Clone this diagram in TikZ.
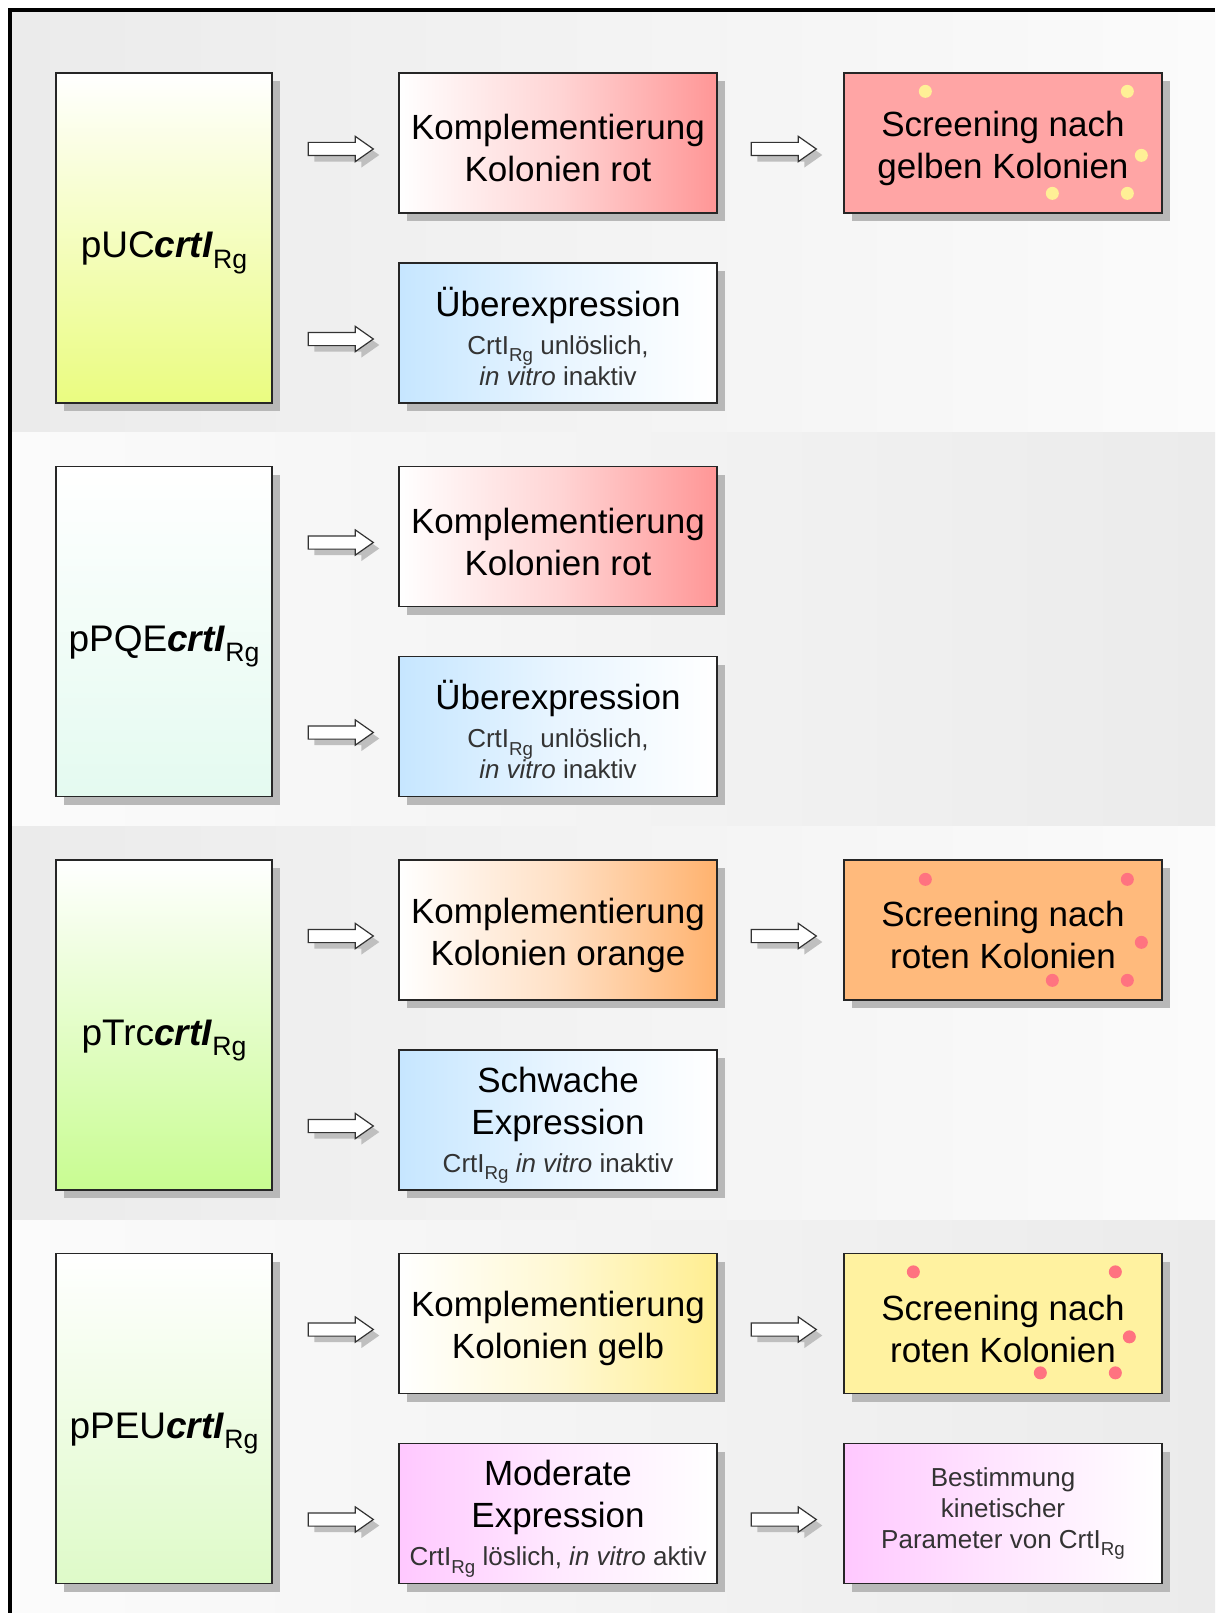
\documentclass[tikz,border=0pt]{standalone}
\usepackage{fontspec}
\setmainfont{Liberation Sans}
\usepackage{tikz}
\usetikzlibrary{shapes.arrows,shadows,calc,positioning}
\definecolor{bandgrau}{RGB}{235,235,235}
\definecolor{bandhell}{RGB}{251,251,251}
\definecolor{rotton}{RGB}{255,150,150}
\definecolor{rotfill}{RGB}{255,165,165}
\definecolor{orangeton}{RGB}{255,178,110}
\definecolor{orangefill}{RGB}{255,186,124}
\definecolor{gelbton}{RGB}{255,238,145}
\definecolor{gelbfill}{RGB}{255,242,160}
\definecolor{blauton}{RGB}{198,230,255}
\definecolor{rosaton}{RGB}{255,200,255}
\definecolor{punktgelb}{RGB}{255,240,150}
\definecolor{punktrot}{RGB}{255,115,128}
\definecolor{pucgruen}{RGB}{234,252,128}
\definecolor{pqegruen}{RGB}{228,250,240}
\definecolor{trcgruen}{RGB}{200,252,145}
\definecolor{peugruen}{RGB}{222,250,200}
\newcommand{\subRg}{\raisebox{-.28em}{\scalebox{.72}{Rg}}}
\newcommand{\genCrt}{\textbf{\textit{crtI}}\subRg}
\newcommand{\protCrt}{CrtI\subRg}
\newcommand{\klein}{\fontsize{26}{31}\selectfont\color{black!80}}
\newcommand{\hoehe}{\rule{0pt}{36pt}}
\newcommand{\plasmidname}[1]{\raisebox{-20pt}[0pt][0pt]{#1}}

\begin{document}
\begin{tikzpicture}[x = 1pt, y = -1pt,
    box/.style = {draw = black!85, line width = 1.3pt, minimum width = 318pt, minimum height = 140pt, inner sep = 0pt, align = center, font = \fontsize{35}{42}\selectfont, drop shadow = {shadow xshift = 8pt, shadow yshift = -8pt, fill = black!28, opacity = 1}},
    kleinbox/.style = {box, font = \klein},
    plasmid/.style = {box, minimum width = 216pt, minimum height = 330pt, font = \fontsize{37}{44}\selectfont},
    pfeil/.style = {single arrow, draw = black!80, line width = 1.2pt, fill = white, minimum height = 65pt, inner xsep = 0pt, inner ysep = 6pt, single arrow head extend = 6pt, single arrow tip angle = 70, anchor = tip, drop shadow = {shadow xshift = 6pt, shadow yshift = -6pt, fill = black!25, opacity = 1}}]
    \useasboundingbox (0,0) rectangle (1215,1613);
    % Hintergrund
    \shade[left color = bandgrau, right color = bandhell] (12,12) rectangle (1215,432);
    \shade[left color = bandhell, right color = bandgrau] (12,432) rectangle (1215,826);
    \shade[left color = bandgrau, right color = bandhell] (12,826) rectangle (1215,1220);
    \shade[left color = bandhell, right color = bandgrau] (12,1220) rectangle (1215,1613);
    \draw[line width = 4pt] (10,1613) -- (10,10) -- (1215,10);
    %%%%%%%%%%
    \node[plasmid, top color = white, bottom color = pucgruen, middle color = pucgruen!50] (puc) at (164,238) {\plasmidname{pUC\genCrt}};
    \node[box, left color = white, right color = rotton, middle color = rotton!40] (kompl1) at (558,143) {\hoehe Komplementierung\\Kolonien rot};
    \node[box, fill = rotfill] (screen1) at (1003,143) {\hoehe Screening nach\\gelben Kolonien};
    \node[box, left color = blauton, right color = white, middle color = blauton!40] (ueber1) at (558,333) {\hoehe Überexpression\\[-4pt]{\klein \protCrt{} unlöslich,}\\[-11pt]{\klein \textit{in vitro} inaktiv}};
    \node[pfeil] (p1a) at ($(kompl1.west)+(-24,6)$) {};
    \node[pfeil] (p1b) at ($(ueber1.west)+(-24,6)$) {};
    \node[pfeil] (p1c) at ($(screen1.west)+(-26,6)$) {};
    \fill[punktgelb] ($(screen1.north west)+(82,19)$) circle (6.5);
    \fill[punktgelb] ($(screen1.north west)+(284,19)$) circle (6.5);
    \fill[punktgelb] ($(screen1.north west)+(298,83)$) circle (6.5);
    \fill[punktgelb] ($(screen1.north west)+(209,121)$) circle (6.5);
    \fill[punktgelb] ($(screen1.north west)+(284,121)$) circle (6.5);
    %%%%%%%%%%
    \node[plasmid, top color = white, bottom color = pqegruen, middle color = pqegruen!50] (pqe) at (164,631.5) {\plasmidname{pPQE\genCrt}};
    \node[box, left color = white, right color = rotton, middle color = rotton!40] (kompl2) at (558,536.5) {\hoehe Komplementierung\\Kolonien rot};
    \node[box, left color = blauton, right color = white, middle color = blauton!40] (ueber2) at (558,726.5) {\hoehe Überexpression\\[-4pt]{\klein \protCrt{} unlöslich,}\\[-11pt]{\klein \textit{in vitro} inaktiv}};
    \node[pfeil] (p2a) at ($(kompl2.west)+(-24,6)$) {};
    \node[pfeil] (p2b) at ($(ueber2.west)+(-24,6)$) {};
    %%%%%%%%%%
    \node[plasmid, top color = white, bottom color = trcgruen, middle color = trcgruen!50] (trc) at (164,1025) {\plasmidname{pTrc\genCrt}};
    \node[box, left color = white, right color = orangeton, middle color = orangeton!40] (kompl3) at (558,930) {\hoehe Komplementierung\\Kolonien orange};
    \node[box, fill = orangefill] (screen3) at (1003,930) {\hoehe Screening nach\\roten Kolonien};
    \node[box, left color = blauton, right color = white, middle color = blauton!40] (schwach) at (558,1120) {\hoehe Schwache\\Expression\\[-4pt]{\klein \protCrt{} \textit{in vitro} inaktiv}};
    \node[pfeil] (p3a) at ($(kompl3.west)+(-24,6)$) {};
    \node[pfeil] (p3b) at ($(schwach.west)+(-24,6)$) {};
    \node[pfeil] (p3c) at ($(screen3.west)+(-26,6)$) {};
    \fill[punktrot] ($(screen3.north west)+(82,20)$) circle (6.5);
    \fill[punktrot] ($(screen3.north west)+(284,20)$) circle (6.5);
    \fill[punktrot] ($(screen3.north west)+(298,83)$) circle (6.5);
    \fill[punktrot] ($(screen3.north west)+(209,121)$) circle (6.5);
    \fill[punktrot] ($(screen3.north west)+(284,121)$) circle (6.5);
    %%%%%%%%%%
    \node[plasmid, top color = white, bottom color = peugruen, middle color = peugruen!50] (peu) at (164,1418.5) {\plasmidname{pPEU\genCrt}};
    \node[box, left color = white, right color = gelbton, middle color = gelbton!40] (kompl4) at (558,1323.5) {\hoehe Komplementierung\\Kolonien gelb};
    \node[box, fill = gelbfill] (screen4) at (1003,1323.5) {\hoehe Screening nach\\roten Kolonien};
    \node[box, left color = rosaton, right color = white, middle color = rosaton!40] (moderat) at (558,1513.5) {\hoehe Moderate\\Expression\\[-4pt]{\klein \protCrt{} löslich, \textit{in vitro} aktiv}};
    \node[kleinbox, left color = rosaton, right color = white, middle color = rosaton!45] (kinetik) at (1003,1513.5) {Bestimmung\\kinetischer\\Parameter von \protCrt};
    \node[pfeil] (p4a) at ($(kompl4.west)+(-24,6)$) {};
    \node[pfeil] (p4b) at ($(moderat.west)+(-24,6)$) {};
    \node[pfeil] (p4c) at ($(screen4.west)+(-26,6)$) {};
    \node[pfeil] (p4d) at ($(kinetik.west)+(-26,6)$) {};
    \fill[punktrot] ($(screen4.north west)+(70,19)$) circle (6.5);
    \fill[punktrot] ($(screen4.north west)+(272,19)$) circle (6.5);
    \fill[punktrot] ($(screen4.north west)+(286,84)$) circle (6.5);
    \fill[punktrot] ($(screen4.north west)+(197,120)$) circle (6.5);
    \fill[punktrot] ($(screen4.north west)+(272,120)$) circle (6.5);
\end{tikzpicture}
\end{document}
